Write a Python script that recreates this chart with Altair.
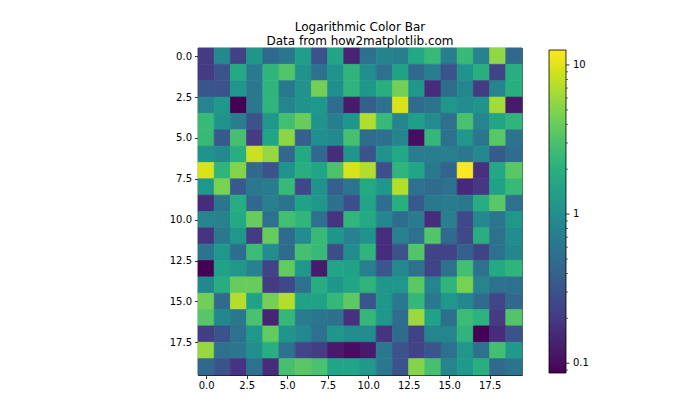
import altair as alt
import pandas as pd

# Cell values (row 0 is the top row of the image)
row00 = [0.2, 0.9, 0.22, 1.2, 0.45, 0.6, 1.4, 0.3, 1.6, 0.14, 0.55, 0.8, 0.7, 1.7, 2.5, 0.7, 2.5, 0.75, 5.5, 0.45]
row01 = [0.2, 0.3, 1.8, 0.65, 2.2, 3.3, 1.1, 0.55, 1.1, 2.2, 1.0, 0.55, 1.5, 0.45, 0.7, 0.3, 1.1, 2.0, 0.23, 2.0]
row02 = [0.32, 0.3, 1.2, 0.63, 2.2, 0.63, 1.1, 4.4, 1.0, 2.2, 1.2, 2.0, 4.4, 1.2, 0.16, 0.5, 0.85, 0.2, 0.8, 2.0]
row03 = [0.8, 1.2, 0.086, 0.63, 2.2, 0.8, 1.1, 1.2, 0.5, 0.12, 0.38, 0.55, 9.5, 0.48, 0.58, 1.2, 0.95, 1.1, 6.5, 0.12]
row04 = [2.5, 1.1, 0.7, 0.3, 1.2, 2.8, 4.0, 1.1, 0.7, 1.2, 7.0, 2.5, 0.8, 1.4, 0.95, 0.55, 3.0, 0.8, 1.6, 2.2]
row05 = [2.5, 0.35, 2.9, 0.2, 1.6, 5.3, 0.38, 1.0, 0.9, 2.9, 0.5, 0.55, 0.8, 0.1, 2.4, 0.55, 1.2, 0.6, 3.5, 0.58]
row06 = [1.1, 0.9, 2.0, 8.5, 5.8, 0.45, 1.8, 0.45, 0.16, 1.15, 0.3, 1.1, 1.7, 0.7, 0.7, 0.72, 0.63, 0.9, 0.35, 0.5]
row07 = [9.5, 2.2, 5.0, 0.45, 0.3, 1.1, 2.0, 1.6, 3.1, 9.5, 7.0, 0.28, 2.2, 1.6, 0.63, 0.43, 12.5, 0.17, 1.7, 3.5]
row08 = [1.2, 4.6, 0.35, 0.63, 0.68, 2.5, 0.24, 1.1, 0.38, 0.6, 1.8, 1.2, 7.2, 0.55, 0.48, 0.55, 0.15, 0.19, 1.5, 2.5]
row09 = [0.16, 0.6, 1.9, 0.45, 0.72, 0.58, 1.5, 1.2, 0.55, 0.28, 1.6, 0.5, 2.0, 0.35, 0.63, 0.68, 0.63, 1.9, 3.5, 0.55]
row10 = [0.8, 0.75, 1.8, 4.0, 0.55, 2.8, 2.3, 0.55, 0.18, 2.3, 1.8, 0.85, 0.5, 0.68, 0.16, 0.72, 0.25, 0.9, 0.6, 1.2]
row11 = [0.18, 0.63, 1.2, 0.2, 4.0, 0.48, 0.95, 2.5, 1.2, 0.75, 1.1, 0.16, 0.75, 0.55, 3.3, 0.48, 0.25, 2.0, 0.55, 0.95]
row12 = [0.57, 1.2, 0.5, 2.6, 0.95, 0.48, 2.9, 2.5, 0.27, 0.95, 2.2, 0.16, 0.3, 3.3, 0.23, 0.23, 0.38, 0.23, 0.55, 0.88]
row13 = [0.086, 1.5, 1.2, 0.75, 0.23, 3.8, 1.2, 0.12, 1.6, 1.5, 0.72, 0.33, 0.9, 0.55, 0.23, 0.55, 2.8, 0.55, 1.8, 2.2]
row14 = [0.88, 1.9, 4.0, 4.0, 0.2, 0.25, 0.55, 1.9, 1.2, 1.6, 2.2, 1.2, 1.2, 3.6, 0.8, 2.2, 4.6, 0.8, 0.55, 0.55]
row15 = [4.3, 0.48, 7.2, 1.5, 4.4, 7.2, 1.5, 1.5, 2.4, 3.6, 0.32, 1.2, 0.63, 2.4, 0.63, 1.2, 0.88, 0.48, 0.24, 0.45]
row16 = [3.4, 0.88, 0.63, 3.0, 0.14, 2.4, 0.68, 0.6, 0.55, 0.17, 2.4, 1.2, 0.5, 6.0, 1.5, 0.53, 2.6, 2.1, 0.2, 3.3]
row17 = [0.21, 0.31, 0.55, 1.2, 3.8, 1.15, 0.9, 0.55, 1.2, 0.95, 0.95, 0.18, 0.48, 0.23, 0.82, 0.82, 2.2, 0.086, 0.16, 0.3]
row18 = [5.8, 0.55, 0.6, 1.0, 2.0, 0.55, 0.24, 0.21, 0.12, 0.1, 0.12, 0.63, 0.3, 0.23, 0.32, 0.55, 1.2, 0.55, 2.8, 1.25]
row19 = [0.45, 0.31, 0.18, 0.55, 0.16, 2.9, 3.5, 3.0, 1.6, 1.6, 1.25, 0.63, 0.31, 5.0, 2.9, 0.8, 1.25, 2.0, 0.48, 0.58]

rows = [row00, row01, row02, row03, row04, row05, row06, row07, row08, row09,
        row10, row11, row12, row13, row14, row15, row16, row17, row18, row19]

axis_ticks = [0.0, 2.5, 5.0, 7.5, 10.0, 12.5, 15.0, 17.5]
color_domain = [0.086, 12.6]
cbar_major = [0.1, 1, 10]
cbar_minor = [0.09, 0.2, 0.3, 0.4, 0.5, 0.6, 0.7, 0.8, 0.9, 2, 3, 4, 5, 6, 7, 8, 9]

records = []
for r, row in enumerate(rows):
    for c, v in enumerate(row):
        records.append({"x": c - 0.5, "x2": c + 0.5, "y": r - 0.5, "y2": r + 0.5, "v": v})
df = pd.DataFrame(records)

W, H = 324, 327
CB_X = 351
CB_W = 17

heat = alt.Chart(df).mark_rect(
    stroke=alt.expr("scale('color', datum.v)"), strokeWidth=0.7
).encode(
    x=alt.X("x:Q", scale=alt.Scale(domain=[-0.5, 19.5], nice=False, zero=False),
            axis=alt.Axis(values=axis_ticks, format=".1f", title=None, grid=False,
                          tickSize=3.5, tickWidth=0.8, tickColor="black",
                          domainColor="black", domainWidth=0.8, labelFontSize=10,
                          labelColor="black", labelPadding=2)),
    x2="x2:Q",
    y=alt.Y("y:Q", scale=alt.Scale(domain=[-0.5, 19.5], nice=False, zero=False, reverse=True),
            axis=alt.Axis(values=axis_ticks, format=".1f", title=None, grid=False,
                          tickSize=3.5, tickWidth=0.8, tickColor="black",
                          domainColor="black", domainWidth=0.8, labelFontSize=10,
                          labelColor="black", labelPadding=3)),
    y2="y2:Q",
    color=alt.Color("v:Q", scale=alt.Scale(type="log", scheme="viridis", domain=color_domain),
                    legend=alt.Legend(orient="none", legendX=CB_X, legendY=2, title=None,
                                      values=cbar_major, labelExpr="format(datum.value, '~g')",
                                      gradientLength=323, gradientThickness=CB_W,
                                      gradientStrokeColor="black", gradientStrokeWidth=0.8,
                                      labelFontSize=10, labelColor="black", labelOffset=7,
                                      direction="vertical")),
)

tick_scale = alt.Scale(type="log", domain=color_domain, range=[325, 2])

major_df = pd.DataFrame({"t": cbar_major})
minor_df = pd.DataFrame({"t": cbar_minor})

major_ticks = alt.Chart(major_df).mark_rule(color="black", strokeWidth=0.8).encode(
    y=alt.Y("t:Q", scale=tick_scale, axis=None),
    x=alt.value(CB_X + CB_W),
    x2=alt.value(CB_X + CB_W + 3.5),
)
minor_ticks = alt.Chart(minor_df).mark_rule(color="black", strokeWidth=0.6).encode(
    y=alt.Y("t:Q", scale=tick_scale, axis=None),
    x=alt.value(CB_X + CB_W),
    x2=alt.value(CB_X + CB_W + 2),
)

chart = alt.layer(heat, major_ticks, minor_ticks).resolve_scale(y="independent").properties(
    width=W, height=H,
    autosize=alt.AutoSizeParams(type="none"),
    padding={"left": 198, "top": 48, "right": 178, "bottom": 45},
    title=alt.Title(["Logarithmic Color Bar", "Data from how2matplotlib.com"],
                    fontSize=12, fontWeight="normal", color="black", anchor="middle",
                    lineHeight=14, offset=0),
).configure(font="DejaVu Sans").configure_view(stroke="black", strokeWidth=0.8)

chart.save("out.html", embed_options={"renderer": "svg", "actions": False})
